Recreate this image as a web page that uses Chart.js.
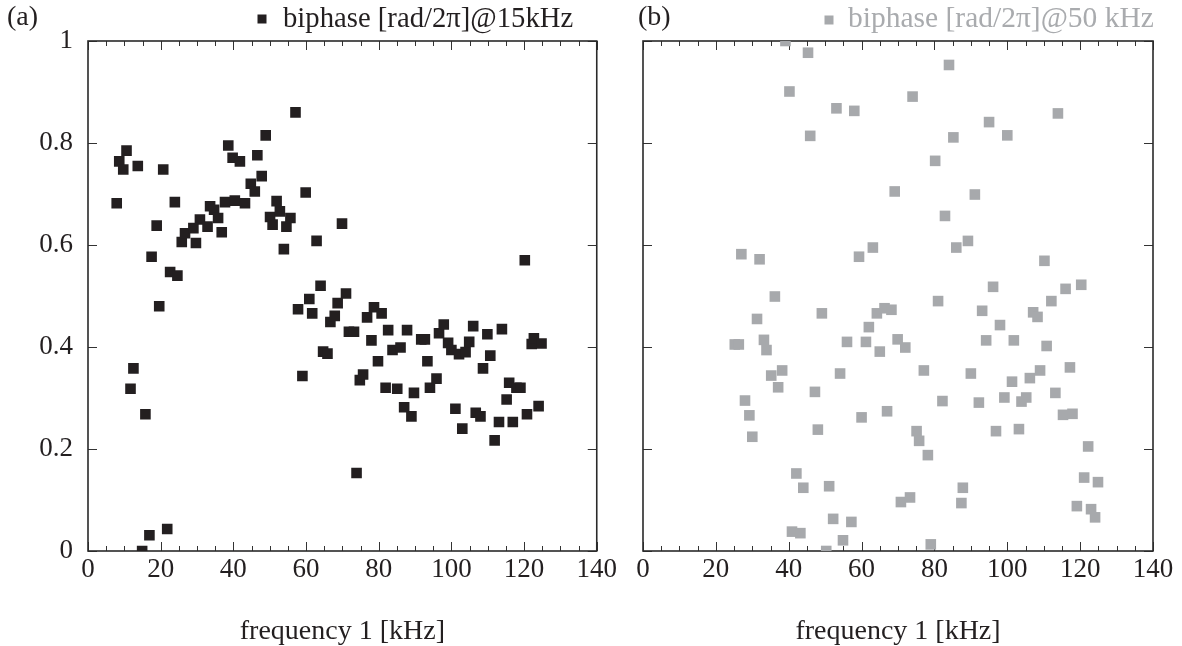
<!DOCTYPE html>
<html>
<head>
<meta charset="utf-8">
<script src="https://cdn.jsdelivr.net/npm/chart.js@4"></script>
<style>
  body { margin: 0; background: #fff; }
  #wrap { position: relative; width: 1182px; height: 646px; }
  canvas { position: absolute; top: 0; }
  #chartA { left: 0; }
  #chartB { left: 620px; }
</style>
</head>
<body>
<div id="wrap">
  <canvas id="chartA" width="620" height="646"></canvas>
  <canvas id="chartB" width="562" height="646"></canvas>
</div>
<script>
// (a) biphase at 15 kHz
const freqA = [7.9, 8.6, 9.7, 10.6, 11.7, 12.5, 13.7, 14.9, 15.8, 16.9,
  17.5, 18.9, 19.6, 20.7, 21.8, 22.6, 23.9, 24.6, 25.8, 26.7,
  29.0, 29.7, 30.8, 32.9, 33.6, 34.7, 35.8, 36.8, 37.7, 38.6,
  39.8, 40.4, 41.8, 43.2, 44.8, 45.9, 46.6, 47.8, 48.9, 50.1,
  50.8, 51.9, 52.8, 53.9, 54.6, 55.7, 57.1, 57.8, 59.0, 59.9,
  60.9, 61.7, 62.9, 64.0, 64.7, 65.9, 66.7, 67.9, 68.7, 69.9,
  71.0, 71.8, 73.2, 73.9, 74.8, 75.7, 76.8, 78.0, 78.7, 79.8,
  80.8, 81.9, 82.6, 83.8, 85.1, 86.0, 87.0, 87.8, 89.0, 89.7,
  91.7, 92.7, 93.4, 94.1, 95.9, 96.6, 97.9, 99.1, 100.0, 101.1,
  102.1, 103.0, 103.9, 104.9, 106.0, 106.7, 108.0, 108.7, 109.9, 110.7,
  111.9, 113.1, 113.9, 115.2, 115.9, 116.9, 117.9, 119.0, 120.2, 120.8,
  122.1, 122.7, 124.0, 124.8];
const phaseA = [0.682, 0.764, 0.748, 0.785, 0.318, 0.358, 0.755, 0, 0.268, 0.031,
  0.577, 0.638, 0.480, 0.748, 0.043, 0.547, 0.684, 0.540, 0.606, 0.623,
  0.633, 0.604, 0.650, 0.636, 0.676, 0.669, 0.653, 0.625, 0.684, 0.795,
  0.771, 0.687, 0.764, 0.682, 0.720, 0.705, 0.776, 0.735, 0.815, 0.655,
  0.640, 0.686, 0.666, 0.592, 0.636, 0.653, 0.860, 0.474, 0.343, 0.703,
  0.494, 0.466, 0.608, 0.520, 0.391, 0.387, 0.449, 0.461, 0.486, 0.642,
  0.505, 0.430, 0.430, 0.153, 0.335, 0.346, 0.458, 0.413, 0.478, 0.372,
  0.466, 0.320, 0.433, 0.394, 0.318, 0.399, 0.282, 0.433, 0.264, 0.310,
  0.415, 0.415, 0.372, 0.320, 0.338, 0.427, 0.444, 0.408, 0.394, 0.279,
  0.386, 0.240, 0.390, 0.410, 0.441, 0.271, 0.264, 0.358, 0.425, 0.383,
  0.217, 0.253, 0.435, 0.297, 0.330, 0.253, 0.320, 0.320, 0.570, 0.268,
  0.406, 0.417, 0.284, 0.407];

// (b) biphase at 50 kHz
const freqB = [25.2, 26.3, 27.0, 28.0, 29.2, 30.0, 31.3, 32.0, 33.2, 33.9,
  35.2, 36.2, 37.1, 38.2, 39.1, 40.2, 40.9, 42.1, 43.2, 44.0,
  45.3, 45.9, 47.2, 48.0, 49.1, 50.3, 51.1, 52.2, 53.1, 54.1,
  54.9, 56.0, 57.2, 58.0, 59.3, 60.0, 61.2, 62.0, 63.1, 64.2,
  65.0, 66.3, 67.0, 68.2, 69.1, 69.9, 70.8, 72.0, 73.3, 74.0,
  75.1, 75.8, 77.1, 78.2, 79.0, 80.2, 81.0, 82.2, 82.9, 84.0,
  85.2, 86.0, 87.4, 87.8, 89.2, 90.0, 91.1, 92.2, 93.1, 94.2,
  95.0, 96.1, 96.9, 98.0, 99.2, 100.0, 101.3, 101.8, 103.2, 103.9,
  105.2, 106.2, 107.1, 108.3, 109.0, 110.2, 110.8, 112.1, 113.2, 113.9,
  115.3, 116.0, 117.2, 117.9, 119.1, 120.3, 121.1, 122.2, 123.0, 124.1,
  124.9];
const phaseB = [0.405, 0.405, 0.582, 0.295, 0.266, 0.224, 0.455, 0.572, 0.414, 0.394,
  0.344, 0.499, 0.321, 0.354, 1.0, 0.901, 0.038, 0.152, 0.035, 0.124,
  0.977, 0.814, 0.312, 0.238, 0.466, 0, 0.127, 0.063, 0.868, 0.348,
  0.021, 0.410, 0.057, 0.863, 0.577, 0.262, 0.410, 0.439, 0.595, 0.466,
  0.391, 0.476, 0.274, 0.473, 0.705, 0.415, 0.096, 0.399, 0.105, 0.891,
  0.235, 0.216, 0.354, 0.188, 0.013, 0.765, 0.490, 0.294, 0.657, 0.953,
  0.811, 0.595, 0.094, 0.124, 0.608, 0.348, 0.699, 0.291, 0.471, 0.413,
  0.841, 0.518, 0.235, 0.443, 0.301, 0.815, 0.332, 0.413, 0.239, 0.293,
  0.301, 0.339, 0.468, 0.459, 0.354, 0.569, 0.402, 0.490, 0.310, 0.858,
  0.267, 0.514, 0.360, 0.269, 0.088, 0.522, 0.144, 0.205, 0.082, 0.066,
  0.135];

const xTicks = [0, 20, 40, 60, 80, 100, 120, 140];
const yTicks = [0, 0.2, 0.4, 0.6, 0.8, 1];
const xTitle = 'frequency 1 [kHz]';

const serif = "'Liberation Serif', 'Times New Roman', serif";
Chart.defaults.font.family = serif;
Chart.defaults.color = '#231f20';

function toPoints(xs, ys) {
  return xs.map((x, i) => ({ x: x, y: ys[i] }));
}

// box frame with inward ticks, legend and panel letter
const framePlugin = {
  id: 'frame',
  beforeDatasetsDraw(chart) {
    const { ctx, chartArea: a, scales: { x, y } } = chart;
    ctx.save();
    ctx.strokeStyle = '#333';
    ctx.lineWidth = 1;
    ctx.beginPath();
    for (let v = 0; v <= 140; v += 5) {
      const px = Math.round(x.getPixelForValue(v)) + 0.5;
      const len = v % 20 === 0 ? 9 : 5;
      ctx.moveTo(px, a.bottom); ctx.lineTo(px, a.bottom - len);
      ctx.moveTo(px, a.top); ctx.lineTo(px, a.top + len);
    }
    yTicks.forEach(v => {
      const py = Math.round(y.getPixelForValue(v)) + 0.5;
      ctx.moveTo(a.left, py); ctx.lineTo(a.left + 9, py);
      ctx.moveTo(a.right, py); ctx.lineTo(a.right - 9, py);
    });
    ctx.stroke();
    ctx.lineWidth = 1.6;
    ctx.strokeStyle = '#2a2a2a';
    ctx.strokeRect(a.left, a.top, a.right - a.left, a.bottom - a.top);
    ctx.restore();
  },
  afterDraw(chart, args, opts) {
    const { ctx } = chart;
    const ds = chart.data.datasets[0];
    ctx.save();
    ctx.textBaseline = 'middle';
    ctx.font = '28px ' + serif;
    ctx.fillStyle = '#231f20';
    ctx.fillText(opts.letter, opts.letterX, opts.letterY);
    ctx.fillStyle = ds.backgroundColor;
    ctx.fillRect(opts.boxX - 4.5, opts.boxY - 4.5, 9, 9);
    ctx.font = opts.textSize + 'px ' + serif;
    ctx.fillStyle = opts.textColor;
    ctx.fillText(ds.label, opts.textX, opts.textY);
    ctx.restore();
  }
};

function makeChart(id, xs, ys, label, color, panel) {
  return new Chart(document.getElementById(id), {
    type: 'scatter',
    data: {
      datasets: [{
        label: label,
        data: toPoints(xs, ys),
        backgroundColor: color,
        borderWidth: 0,
        pointStyle: 'rect',
        pointRadius: 7.5
      }]
    },
    options: {
      responsive: false,
      animation: false,
      layout: { padding: { top: 41, right: panel.padRight, bottom: 0, left: 0 } },
      plugins: {
        legend: { display: false },
        tooltip: { enabled: false },
        frame: panel.frame
      },
      scales: {
        x: {
          type: 'linear', min: 0, max: 140,
          afterBuildTicks: s => { s.ticks = xTicks.map(v => ({ value: v })); },
          afterFit: s => { s.height = 95; },
          grid: { display: false, drawTicks: false },
          border: { display: false },
          ticks: { font: { size: 27 }, padding: 3, maxRotation: 0, color: '#231f20', callback: v => String(v) },
          title: { display: true, text: xTitle, font: { size: 28, lineHeight: 1 }, padding: { top: 0, bottom: 0 }, color: '#231f20' }
        },
        y: {
          type: 'linear', min: 0, max: 1,
          afterBuildTicks: s => { s.ticks = yTicks.map(v => ({ value: v })); },
          afterFit: s => { s.width = panel.yWidth; },
          grid: { display: false, drawTicks: false },
          border: { display: false },
          ticks: { display: panel.yLabels, font: { size: 27 }, padding: 15, color: '#231f20', callback: v => String(v) }
        }
      }
    },
    plugins: [framePlugin]
  });
}

makeChart('chartA', freqA, phaseA, 'biphase [rad/2\u03c0]@15kHz', '#231f20', {
  padRight: 23, yWidth: 88, yLabels: true,
  frame: { letter: '(a)', letterX: 7, letterY: 18, boxX: 262, boxY: 19, textX: 283, textY: 19, textSize: 28.7, textColor: '#231f20' }
});

makeChart('chartB', freqB, phaseB, 'biphase [rad/2\u03c0]@50 kHz', '#a7a9ac', {
  padRight: 29, yWidth: 23, yLabels: false,
  frame: { letter: '(b)', letterX: 18, letterY: 18, boxX: 209, boxY: 20, textX: 228, textY: 19, textSize: 29.5, textColor: '#a9abae' }
});
</script>
</body>
</html>
